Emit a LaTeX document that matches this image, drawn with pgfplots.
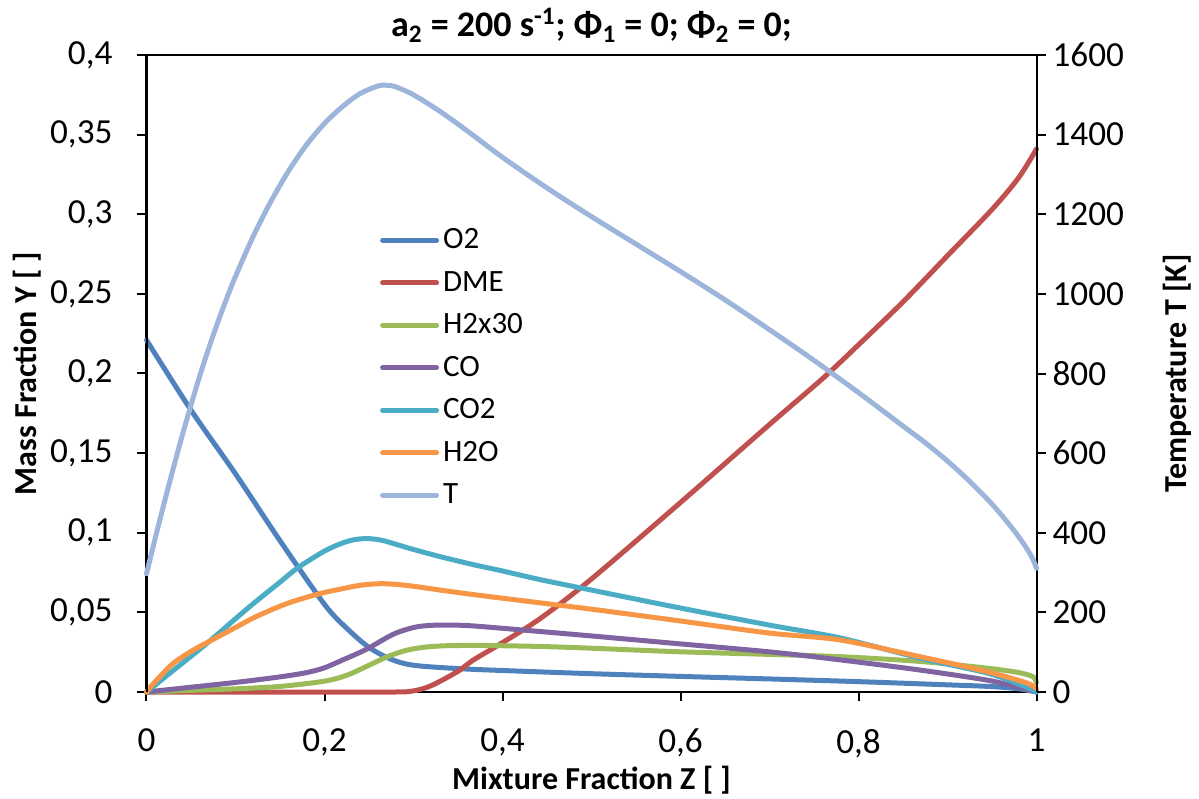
\documentclass[border=0pt]{standalone}
\usepackage{fontspec}
\setmainfont{Carlito}
\usepackage{pgfplots}
\pgfplotsset{compat=1.18}

\definecolor{cotwo}{HTML}{4F81BD}
\definecolor{cdme}{HTML}{C0504D}
\definecolor{chtwo}{HTML}{9BBB59}
\definecolor{cco}{HTML}{8064A2}
\definecolor{ccotwo}{HTML}{4BACC6}
\definecolor{chtwoo}{HTML}{F79646}
\definecolor{ctemp}{HTML}{9DB5DA}

\pgfplotsset{
  base/.style={
    width=445pt, height=318.5pt, scale only axis,
    xmin=0, xmax=1, clip=false,
    axis line style={line width=1pt},
    tick style={line width=1pt, black},
    major tick length=4.5pt, tick align=outside,
    tick label style={font=\fontsize{17.6}{20}\selectfont},
    label style={font=\fontsize{16}{19}\selectfont\bfseries},
  },
  curve/.style={line width=2.5pt, smooth, tension=0.5, line join=round, line cap=round},
}

\begin{document}
\begin{tikzpicture}
\begin{axis}[base,
  ymin=0, ymax=0.4,
  xtick={0,0.2,0.4,0.6,0.8,1},
  xticklabels={0,{0,2},{0,4},{0,6},{0,8},1},
  ytick={0,0.05,0.1,0.15,0.2,0.25,0.3,0.35,0.4},
  yticklabels={0,{0,05},{0,1},{0,15},{0,2},{0,25},{0,3},{0,35},{0,4}},
  xtick pos=lower, ytick pos=left,
  yticklabel style={xshift=-9pt},
  xticklabel style={yshift=-10.5pt},
  xlabel={Mixture Fraction Z [ ]},
  ylabel={Mass Fraction Y [ ]},
  xlabel style={at={(axis description cs:0.5,0)}, anchor=center, yshift=-44pt},
  ylabel style={at={(axis description cs:0,0.5)}, anchor=center, yshift=59.75pt},
  title={a\textsubscript{2} = 200 s\textsuperscript{-1}; Φ\textsubscript{1} = 0; Φ\textsubscript{2} = 0;},
  title style={at={(axis description cs:0.5,1)}, anchor=center, yshift=9pt, font=\fontsize{18}{21}\selectfont\bfseries},
  legend style={at={(rel axis cs:0.262,0.734)}, anchor=north west, draw=none, fill=none,
    font=\fontsize{15.5}{18}\selectfont, row sep=5.7pt, inner sep=0pt},
  legend cell align=left,
  legend image code/.code={\draw[#1, line width=2.5pt, line cap=round] (0pt,0pt) -- (27pt,0pt);},
]
% O2
\addplot[curve, cotwo] coordinates {
(0,0.221) (0.05,0.177) (0.1,0.137) (0.15,0.095) (0.2,0.055) (0.225,0.040) (0.25,0.028)
(0.275,0.0205) (0.3,0.0168) (0.35,0.0147) (0.4,0.0135) (0.5,0.0115) (0.6,0.0098)
(0.7,0.0082) (0.8,0.0065) (0.9,0.0045) (0.95,0.0034) (0.98,0.002) (1,0)};
\addlegendentry{O2}
% DME
\addplot[curve, cdme] coordinates {
(0,0) (0.1,0) (0.2,0) (0.28,0) (0.30,0.0007) (0.32,0.004) (0.35,0.013) (0.367,0.020)
(0.4,0.031) (0.442,0.046) (0.5,0.071) (0.6,0.119) (0.7,0.168) (0.76,0.197) (0.8,0.218)
(0.85,0.245) (0.9,0.274) (0.95,0.303) (0.98,0.323) (1,0.341)};
\addlegendentry{DME}
% H2 x 30
\addplot[curve, chtwo] coordinates {
(0,0) (0.05,0.001) (0.1,0.002) (0.15,0.0035) (0.2,0.0068) (0.225,0.0105) (0.247,0.0160)
(0.27,0.0220) (0.292,0.0262) (0.315,0.0283) (0.34,0.0291) (0.38,0.0292) (0.442,0.0286)
(0.5,0.0275) (0.592,0.0254) (0.7,0.0236) (0.779,0.0222) (0.869,0.0192) (0.944,0.0150)
(0.98,0.0122) (0.996,0.0096) (1,0.006)};
\addlegendentry{H2x30}
% CO
\addplot[curve, cco] coordinates {
(0,0) (0.05,0.003) (0.1,0.006) (0.15,0.0095) (0.18,0.0122) (0.2,0.0152) (0.22,0.0200)
(0.247,0.0268) (0.277,0.0362) (0.3,0.0405) (0.318,0.0418) (0.34,0.0420) (0.367,0.0415)
(0.442,0.0380) (0.5,0.0352) (0.592,0.0306) (0.7,0.0252) (0.779,0.0202) (0.869,0.0138)
(0.944,0.0075) (0.98,0.003) (1,0)};
\addlegendentry{CO}
% CO2
\addplot[curve, ccotwo] coordinates {
(0,0) (0.03,0.0135) (0.068,0.0306) (0.1,0.0460) (0.12,0.0555) (0.15,0.0690) (0.17,0.0780)
(0.2,0.0885) (0.22,0.0935) (0.235,0.0958) (0.25,0.0963) (0.265,0.0952) (0.28,0.0928)
(0.3,0.0895) (0.33,0.0850) (0.367,0.0800) (0.4,0.0760) (0.442,0.0706) (0.5,0.0640)
(0.592,0.0536) (0.7,0.0420) (0.779,0.0340) (0.869,0.0213) (0.944,0.0120) (0.98,0.005) (1,0)};
\addlegendentry{CO2}
% H2O
\addplot[curve, chtwoo] coordinates {
(0,0) (0.005,0.0035) (0.015,0.0096) (0.03,0.0180) (0.05,0.0255) (0.068,0.0310)
(0.1,0.0405) (0.12,0.0465) (0.142,0.0520) (0.16,0.0560) (0.18,0.0595) (0.2,0.0625)
(0.217,0.0645) (0.24,0.0670) (0.262,0.0680) (0.28,0.0676) (0.3,0.0664) (0.33,0.0640)
(0.367,0.0612) (0.442,0.0560) (0.5,0.0520) (0.592,0.0452) (0.7,0.0370) (0.779,0.0327)
(0.869,0.0222) (0.944,0.0128) (0.989,0.0057) (1,0.002)};
\addlegendentry{H2O}
\addlegendimage{ctemp}
\addlegendentry{T}
\end{axis}

\begin{axis}[base,
  ymin=0, ymax=1600,
  axis x line=none,
  ytick={0,200,400,600,800,1000,1200,1400,1600},
  yticklabels={0,200,400,600,800,1000,1200,1400,1600},
  ytick pos=right,
  ylabel={Temperature T [K]},
  ylabel style={at={(axis description cs:1,0.5)}, anchor=center, yshift=-70.6pt},
]
\addplot[curve, ctemp] coordinates {
(0,297) (0.01,388) (0.02,476) (0.03,561) (0.04,643) (0.05,721) (0.06,795) (0.07,864)
(0.08,928) (0.09,988) (0.1,1044) (0.12,1145) (0.14,1233) (0.16,1310) (0.18,1375)
(0.2,1428) (0.22,1470) (0.24,1503) (0.26,1522) (0.27,1524) (0.28,1520) (0.3,1500)
(0.33,1458) (0.36,1410) (0.4,1343) (0.45,1266) (0.5,1194) (0.55,1125) (0.6,1056)
(0.65,985) (0.7,910) (0.75,833) (0.8,752) (0.85,668) (0.875,626) (0.9,580) (0.925,529)
(0.95,472) (0.97,419) (0.985,374) (0.995,338) (1,311)};
\end{axis}
\pgfresetboundingbox
\path[use as bounding box] (-73.25pt,-53pt) rectangle (526.25pt,346pt);
\end{tikzpicture}
\end{document}
